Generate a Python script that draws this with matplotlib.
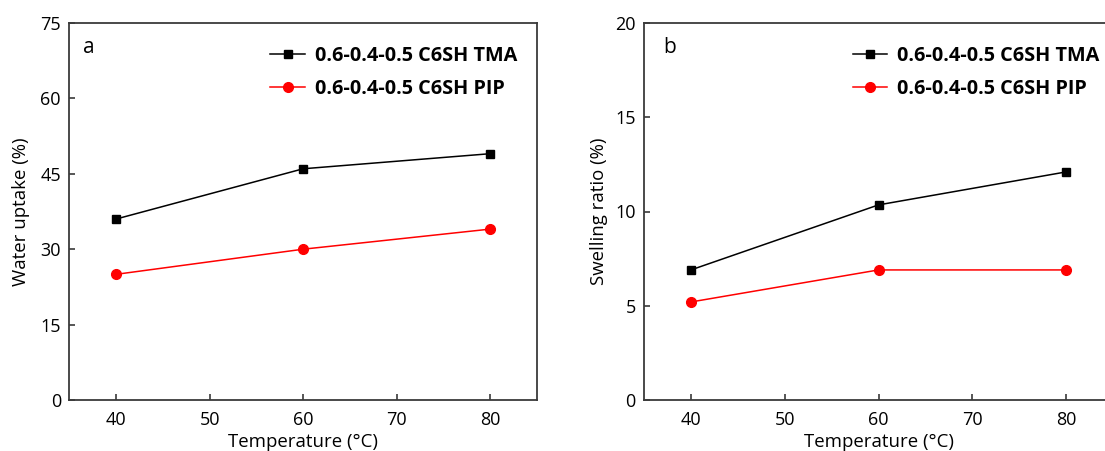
import matplotlib
matplotlib.use("Agg")
import matplotlib.pyplot as plt

plt.rcParams['font.family'] = ['Open Sans', 'DejaVu Sans']

temps = [40, 60, 80]
water_tma = [36, 46, 49]
water_pip = [25, 30, 34]
swell_tma = [6.9, 10.35, 12.1]
swell_pip = [5.2, 6.9, 6.9]
label_tma = "0.6-0.4-0.5 C6SH TMA"
label_pip = "0.6-0.4-0.5 C6SH PIP"
xticks = [40, 50, 60, 70, 80]

W, H = 1105, 451
fig = plt.figure(figsize=(W / 100, H / 100), dpi=100)

spine_col = '#3a3a3a'

def make_axes(rect, tma, pip, ylim, yticks, ylabel, letter, ylabel_x, letter_x, leg_x):
    ax = fig.add_axes(rect)
    ax.plot(temps, tma, color='black', marker='s', markersize=6.3, linewidth=1.1, label=label_tma, clip_on=False)
    ax.plot(temps, pip, color='#ff0000', marker='o', markersize=7, linewidth=1.1, label=label_pip, clip_on=False)
    ax.set_xlim(35, 85)
    ax.set_ylim(*ylim)
    ax.set_xticks(xticks)
    ax.set_yticks(yticks)
    ax.tick_params(direction='in', length=4, width=1.2, color=spine_col, labelsize=13, pad=6)
    ax.tick_params(axis='x', pad=8)
    for s in ax.spines.values():
        s.set_color(spine_col)
        s.set_linewidth(1.3)
    ax.set_xlabel("Temperature (°C)", fontsize=13.4, labelpad=3)
    ax.set_ylabel(ylabel, fontsize=13.4)
    ax.yaxis.set_label_coords(ylabel_x, 0.5)
    ax.text(letter_x, 0.935, letter, transform=ax.transAxes, fontsize=15, va='center', ha='left')
    leg = ax.legend(loc='upper left', bbox_to_anchor=(leg_x, 0.94), frameon=False,
                    prop={'weight': 'bold', 'size': 14.3}, handlelength=1.75,
                    handletextpad=0.5, labelspacing=0.65, borderaxespad=0, borderpad=0)
    return ax

ax1 = make_axes([69.3 / W, 51 / H, 467.7 / W, 377 / H], water_tma, water_pip,
                (0, 75), [0, 15, 30, 45, 60, 75], "Water uptake (%)", 'a', -0.0835, 0.03, 0.43)
ax2 = make_axes([644 / W, 51 / H, 469 / W, 377 / H], swell_tma, swell_pip,
                (0, 20), [0, 5, 10, 15, 20], "Swelling ratio (%)", 'b', -0.0766, 0.04, 0.445)

fig.savefig("out.png", dpi=100)
